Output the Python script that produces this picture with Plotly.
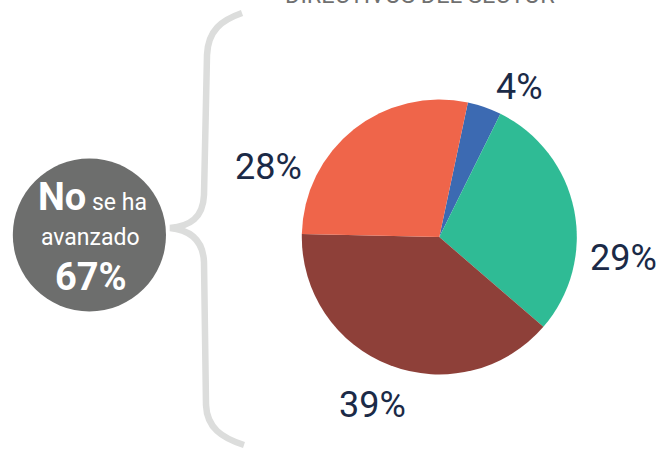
import plotly.graph_objects as go

# ---- data ----
categories = ["Azul", "Verde", "Rojo", "Naranja"]
values = [4, 29, 39, 28]
colors = ["#3c6ab2", "#2fbb95", "#8e4039", "#ef654a"]
summary_value = 67
summary_text_bold = "No"
summary_text_rest = "se ha"
summary_text_line2 = "avanzado"
title_text = "DIRECTIVOS DEL SECTOR"

W, H = 660, 451


def px(x):
    return x / W


def py(y):
    return (H - y) / H


fig = go.Figure()
fig.add_trace(go.Pie(
    labels=categories,
    values=values,
    sort=False,
    direction="clockwise",
    rotation=12,
    marker=dict(colors=colors, line=dict(width=0)),
    textinfo="none",
    hoverinfo="label+percent",
    showlegend=False,
    domain=dict(x=[px(439.3 - 137.5), px(439.3 + 137.5)],
                y=[py(237 + 137.5), py(237 - 137.5)]),
))

# percent labels
label_pos = [(519, 87.5), (623, 258), (372, 405), (268.7, 167)]
annotations = []
for v, (lx, ly) in zip(values, label_pos):
    annotations.append(dict(
        x=px(lx), y=py(ly), xref="paper", yref="paper",
        text=f"{v}%", showarrow=False, xanchor="center", yanchor="middle",
        font=dict(family="Roboto", size=36, color="#1b2a47"),
    ))

# title (cut off at top, as in the source)
annotations.append(dict(
    x=px(420), y=py(-4.5), xref="paper", yref="paper",
    text=title_text, showarrow=False, xanchor="center", yanchor="middle",
    font=dict(family="Roboto", size=23.5, color="#707070"),
))

# summary circle texts
annotations.append(dict(
    x=px(92.5), y=py(197), xref="paper", yref="paper",
    text=f"<b>{summary_text_bold}</b><span style='font-size:23px'> {summary_text_rest}</span>",
    showarrow=False, xanchor="center", yanchor="middle",
    font=dict(family="Roboto", size=38, color="white"),
))
annotations.append(dict(
    x=px(90), y=py(237), xref="paper", yref="paper",
    text=summary_text_line2, showarrow=False, xanchor="center", yanchor="middle",
    font=dict(family="Roboto", size=23, color="white"),
))
annotations.append(dict(
    x=px(91), y=py(277), xref="paper", yref="paper",
    text=f"<b>{summary_value}%</b>", showarrow=False, xanchor="center", yanchor="middle",
    font=dict(family="Roboto", size=38, color="white"),
))

# brace path (pixel coords -> paper)
brace_pts = [
    ("M", [(242, 13)]),
    ("C", [(222, 20), (208, 30), (207, 55)]),
    ("L", [(204, 195)]),
    ("C", [(203, 218), (190, 226), (170, 228)]),
    ("C", [(190, 230), (203, 240), (204, 262)]),
    ("L", [(206, 405)]),
    ("C", [(207, 428), (222, 438), (244, 445)]),
]
path = ""
for cmd, pts in brace_pts:
    path += cmd + " " + " ".join(f"{px(x):.5f},{py(y):.5f}" for x, y in pts) + " "

shapes = [
    dict(type="circle", xref="paper", yref="paper",
         x0=px(12.8), x1=px(166), y0=py(311.5), y1=py(158.5),
         fillcolor="#6d6e6d", line=dict(width=0), layer="below"),
    dict(type="path", xref="paper", yref="paper", path=path.strip(),
         line=dict(color="#dcdddc", width=6.5)),
]

fig.update_layout(
    width=W, height=H,
    margin=dict(l=0, r=0, t=0, b=0),
    paper_bgcolor="white", plot_bgcolor="white",
    annotations=annotations,
    shapes=shapes,
    showlegend=False,
)

fig.write_html("out.html",
               config={"displayModeBar": False},
               post_script="document.body.style.margin='0';document.body.style.overflow='hidden';")
